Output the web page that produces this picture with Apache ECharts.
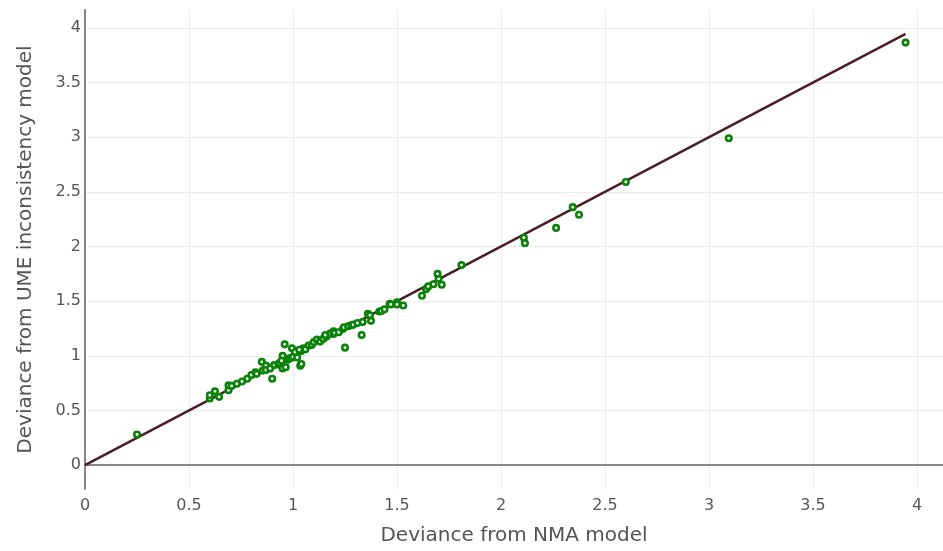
<!DOCTYPE html>
<html>
<head>
<meta charset="utf-8">
<script src="https://cdn.jsdelivr.net/npm/echarts@6/dist/echarts.min.js"></script>
<style>
html,body{margin:0;padding:0;background:#fff;}
#chart{width:943px;height:551px;}
</style>
</head>
<body>
<div id="chart"></div>
<script>
const xLabel = "Deviance from NMA model";
const yLabel = "Deviance from UME inconsistency model";

const nmaDeviance = [
  0.25, 0.60, 0.60, 0.625, 0.645, 0.69, 0.69, 0.705, 0.73, 0.755,
  0.78, 0.80, 0.82, 0.825, 0.85, 0.855, 0.87, 0.87, 0.89, 0.90,
  0.91, 0.93, 0.935, 0.95, 0.95, 0.945, 0.96, 0.965, 0.975, 0.98,
  0.99, 0.995, 1.00, 1.01, 1.02, 1.035, 1.04, 1.04, 1.05, 1.03,
  1.06, 1.075, 1.09, 1.10, 1.115, 1.13, 1.145, 1.16, 1.155, 1.18,
  1.195, 1.195, 1.20, 1.22, 1.24, 1.25, 1.245, 1.265, 1.28, 1.29,
  1.31, 1.33, 1.335, 1.36, 1.37, 1.375, 1.415, 1.425, 1.44, 1.465,
  1.47, 1.50, 1.50, 1.53, 1.62, 1.64, 1.65, 1.675, 1.70, 1.695,
  1.715, 1.81, 2.11, 2.115, 2.265, 2.345, 2.375, 2.60, 3.095, 3.945
];
const umeDeviance = [
  0.28, 0.61, 0.64, 0.675, 0.625, 0.685, 0.73, 0.725, 0.745, 0.765,
  0.79, 0.825, 0.85, 0.835, 0.945, 0.865, 0.91, 0.87, 0.885, 0.79,
  0.915, 0.92, 0.935, 0.885, 1.00, 0.955, 1.105, 0.895, 0.965, 0.975,
  0.98, 1.07, 0.99, 1.035, 0.985, 0.91, 0.925, 1.045, 1.07, 1.055,
  1.06, 1.095, 1.10, 1.125, 1.15, 1.13, 1.155, 1.175, 1.19, 1.205,
  1.20, 1.225, 1.21, 1.215, 1.245, 1.075, 1.26, 1.27, 1.28, 1.285,
  1.30, 1.19, 1.31, 1.385, 1.37, 1.32, 1.405, 1.41, 1.425, 1.475,
  1.47, 1.49, 1.47, 1.46, 1.55, 1.61, 1.635, 1.655, 1.705, 1.75,
  1.65, 1.83, 2.08, 2.03, 2.17, 2.36, 2.29, 2.59, 2.99, 3.865
];

const refLineX = [0, 3.945];
const refLineY = [0, 3.945];

const points = nmaDeviance.map((v, i) => [v, umeDeviance[i]]);
const refLine = refLineX.map((v, i) => [v, refLineY[i]]);

const FONT = "DejaVu Sans";
const TXT = "#555";

const chart = echarts.init(document.getElementById('chart'), null, {renderer: 'canvas'});
chart.setOption({
  animation: false,
  backgroundColor: '#fff',
  grid: {left: 85, right: 0, top: 10, bottom: 58, containLabel: false},
  xAxis: [{
    type: 'value',
    min: 0, max: 4.125,
    minInterval: 0.5, maxInterval: 0.5,
    name: xLabel,
    nameLocation: 'middle',
    nameGap: 37,
    nameTextStyle: {fontFamily: FONT, fontSize: 20, color: TXT},
    axisLine: {show: false, onZero: false},
    axisTick: {show: false},
    axisLabel: {fontFamily: FONT, fontSize: 16, color: TXT, margin: 9, showMaxLabel: false},
    splitLine: {show: true, showMinLine: false, showMaxLine: false, lineStyle: {color: '#ebebeb', width: 1}}
  }, {
    type: 'value',
    min: 0, max: 4.125,
    position: 'bottom',
    axisLine: {show: true, onZero: true, lineStyle: {color: '#858585', width: 2}},
    axisTick: {show: false},
    axisLabel: {show: false},
    splitLine: {show: false}
  }],
  yAxis: {
    type: 'value',
    min: -0.218, max: 4.163,
    minInterval: 0.5, maxInterval: 0.5,
    name: yLabel,
    nameLocation: 'middle',
    nameGap: 49,
    nameTextStyle: {fontFamily: FONT, fontSize: 20, color: TXT},
    axisLine: {show: true, onZero: false, lineStyle: {color: '#858585', width: 2}},
    axisTick: {show: false},
    axisLabel: {fontFamily: FONT, fontSize: 16, color: TXT, margin: 4, showMinLabel: false, showMaxLabel: false},
    splitLine: {show: true, showMinLine: false, showMaxLine: false, lineStyle: {color: '#ebebeb', width: 1}}
  },
  series: [{
    type: 'line',
    data: refLine,
    showSymbol: false,
    symbol: 'none',
    lineStyle: {color: '#4b1e26', width: 2.5},
    z: 2
  }, {
    type: 'scatter',
    data: points,
    symbol: 'circle',
    symbolSize: 5.5,
    itemStyle: {color: '#ffffff', borderColor: '#0a820a', borderWidth: 2.6, opacity: 1},
    z: 3
  }]
});
</script>
</body>
</html>
